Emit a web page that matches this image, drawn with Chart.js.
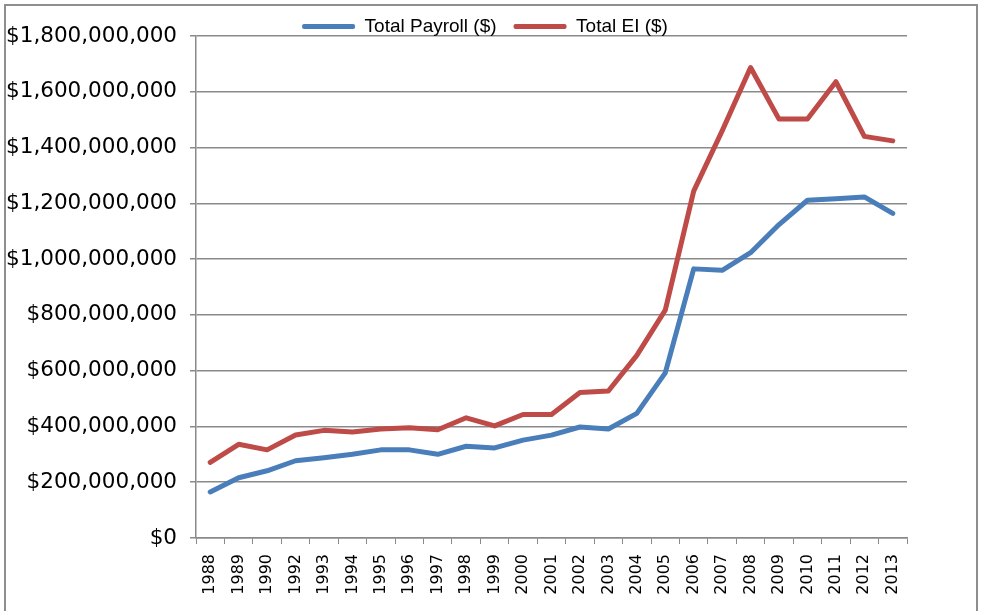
<!DOCTYPE html>
<html>
<head>
<meta charset="utf-8">
<script src="https://cdn.jsdelivr.net/npm/chart.js@4.4.1/dist/chart.umd.min.js"></script>
<style>
    html, body { margin: 0; padding: 0; background: #fff; }
    #wrap { position: relative; width: 984px; height: 611px; overflow: hidden; }
    #frame {
        position: absolute; left: 4px; top: 4px; width: 974px; height: 640px;
        border: 2px solid #8e8e8e; box-sizing: border-box;
    }
    #box { position: absolute; left: 0; top: 0; width: 984px; height: 611px; }
</style>
</head>
<body>
<div id="wrap">
    <div id="frame"></div>
    <div id="box"><canvas id="eiChart"></canvas></div>
</div>
<script>
// 年份 (1991 not in the source chart)
const years = ['1988', '1989', '1990', '1992', '1993', '1994', '1995', '1996', '1997', '1998',
    '1999', '2000', '2001', '2002', '2003', '2004', '2005', '2006', '2007', '2008',
    '2009', '2010', '2011', '2012', '2013'];

const totalPayroll = [165000000, 216000000, 241000000, 277000000, 288000000, 300000000,
    316000000, 316000000, 300000000, 329000000, 323000000, 351000000, 369000000,
    398000000, 391000000, 447000000, 592000000, 965000000, 960000000, 1023000000,
    1124000000, 1211000000, 1216000000, 1223000000, 1164000000];

const totalEI = [271000000, 336000000, 316000000, 369000000, 386000000, 380000000,
    391000000, 395000000, 388000000, 431000000, 402000000, 443000000, 443000000,
    522000000, 527000000, 655000000, 817000000, 1244000000, 1460000000, 1687000000,
    1502000000, 1502000000, 1636000000, 1440000000, 1424000000];

const yTicks = [0, 200000000, 400000000, 600000000, 800000000, 1000000000,
    1200000000, 1400000000, 1600000000, 1800000000];

const gridGray = '#8a8a8a';

const ctx = document.getElementById('eiChart').getContext('2d');
const eiChart = new Chart(ctx, {
    type: 'line',
    data: {
        labels: years,
        datasets: [{
            label: 'Total Payroll ($)',
            data: totalPayroll,
            borderColor: '#4a7ebb',
            backgroundColor: '#4a7ebb',
            borderWidth: 5,
            pointRadius: 0,
            tension: 0,
            borderJoinStyle: 'round',
            borderCapStyle: 'round'
        }, {
            label: 'Total EI ($)',
            data: totalEI,
            borderColor: '#be4b48',
            backgroundColor: '#be4b48',
            borderWidth: 5,
            pointRadius: 0,
            tension: 0,
            borderJoinStyle: 'round',
            borderCapStyle: 'round'
        }]
    },
    options: {
        responsive: true,
        maintainAspectRatio: false,
        animation: false,
        layout: {
            padding: { top: 0, right: 14, bottom: 0, left: 0 }
        },
        plugins: {
            legend: {
                display: true,
                position: 'top',
                maxHeight: 36,
                labels: {
                    boxWidth: 53,
                    boxHeight: 5,
                    padding: 17,
                    color: '#000',
                    font: { family: "'Liberation Sans', Arial, sans-serif", size: 19 },
                    generateLabels: function(chart) {
                        const items = Chart.defaults.plugins.legend.labels.generateLabels(chart);
                        items.forEach(function(item) {
                            item.lineWidth = 0;
                            item.fillStyle = item.strokeStyle;
                            item.borderRadius = 2;
                        });
                        return items;
                    }
                }
            },
            tooltip: { enabled: false }
        },
        scales: {
            x: {
                offset: true,
                grid: {
                    offset: true,
                    drawOnChartArea: false,
                    drawTicks: true,
                    tickLength: 6,
                    color: gridGray
                },
                border: { color: gridGray, width: 1.5 },
                ticks: {
                    autoSkip: false,
                    minRotation: 90,
                    maxRotation: 90,
                    padding: 10,
                    color: '#000',
                    font: { family: "'DejaVu Sans', Verdana, sans-serif", size: 16 }
                },
                afterFit: function(scale) {
                    scale.height = 73;
                }
            },
            y: {
                min: 0,
                max: 1800000000,
                afterBuildTicks: function(scale) {
                    scale.ticks = yTicks.map(function(v) { return { value: v }; });
                },
                grid: {
                    color: gridGray,
                    lineWidth: 1.5,
                    drawTicks: true,
                    tickLength: 6
                },
                border: { color: gridGray, width: 1.5 },
                ticks: {
                    padding: 13,
                    color: '#000',
                    font: { family: "'DejaVu Sans', Verdana, sans-serif", size: 21.5 },
                    callback: function(value) {
                        return '$' + Number(value).toLocaleString('en-US');
                    }
                },
                afterFit: function(scale) {
                    scale.width = 196;
                }
            },
            // empty right-hand spacer so the legend sits where the original one does
            y2: {
                position: 'right',
                min: 0,
                max: 1800000000,
                grid: { display: false, drawTicks: false },
                border: { display: false },
                ticks: { display: false },
                afterFit: function(scale) {
                    scale.width = 63;
                }
            }
        }
    }
});
</script>
</body>
</html>
